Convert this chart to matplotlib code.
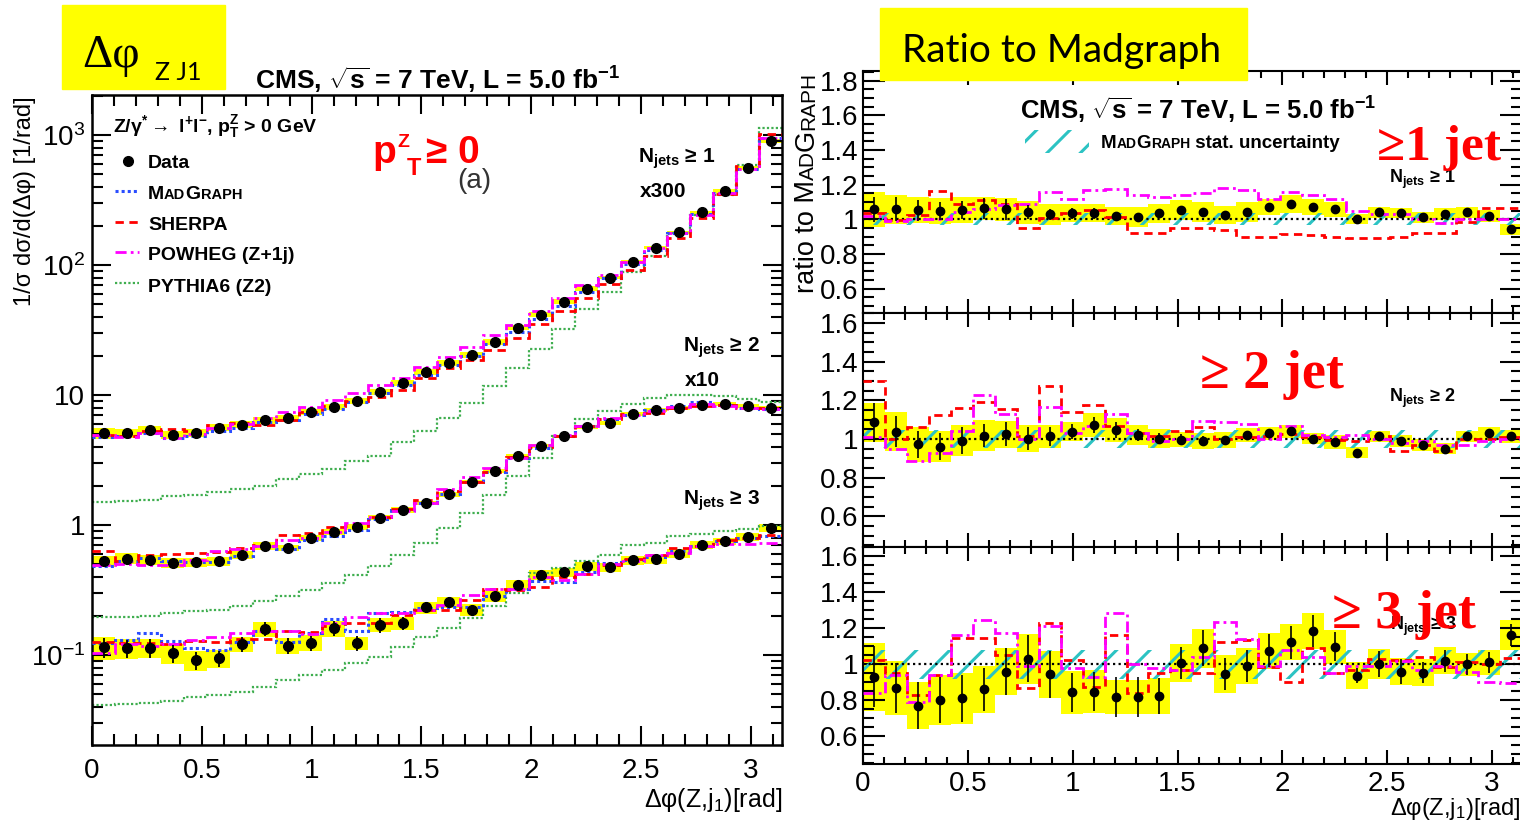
import matplotlib
matplotlib.use("Agg")
import matplotlib.pyplot as plt
import matplotlib.ticker as mticker
from matplotlib.patches import Rectangle
from matplotlib.lines import Line2D
import numpy as np

W, H = 1520, 826

# 30 bins in delta-phi(Z, j1) between 0 and pi
n_bins = 30
edges = np.linspace(0, np.pi, n_bins + 1)
centers = 0.5 * (edges[:-1] + edges[1:])
bin_w = edges[1] - edges[0]

# normalised cross sections as drawn (>=1 jet x300, >=2 jets x10, >=3 jets x1)
data_1j = [5.06, 5.1, 5.4, 4.9, 5.1, 5.6, 5.9, 6.4, 6.6, 7.4, 8.1, 9.0, 10.6, 12.3, 15.1,
           17.7, 20.4, 25.6, 32.9, 41.5, 52.2, 65.9, 80.0, 106, 136, 178, 254, 370, 556, 900]
data_2j = [0.526, 0.551, 0.542, 0.511, 0.516, 0.526, 0.592, 0.687, 0.667, 0.796, 0.887, 0.962,
           1.14, 1.30, 1.48, 1.72, 2.14, 2.59, 3.38, 4.04, 4.82, 5.66, 6.08, 7.13, 7.66, 7.94,
           8.38, 8.53, 8.22, 7.94]
data_3j = [0.115, 0.113, 0.114, 0.103, 0.0914, 0.0943, 0.121, 0.159, 0.118, 0.124, 0.161, 0.124,
           0.171, 0.176, 0.232, 0.254, 0.223, 0.282, 0.347, 0.415, 0.432, 0.481, 0.476, 0.535,
           0.548, 0.603, 0.707, 0.750, 0.805, 0.951]

pythia_1j = [1.50, 1.52, 1.55, 1.67, 1.71, 1.79, 1.90, 1.99, 2.25, 2.45, 2.68, 3.11, 3.40, 4.31,
             5.30, 6.61, 8.67, 11.8, 16.1, 22.6, 32.4, 45.6, 62.0, 89.0, 118, 175, 241, 344, 586, 1132]
pythia_2j = [0.195, 0.195, 0.198, 0.210, 0.216, 0.222, 0.236, 0.258, 0.282, 0.318, 0.357, 0.415,
             0.481, 0.592, 0.729, 0.951, 1.24, 1.70, 2.38, 3.30, 4.85, 6.53, 7.57, 8.53, 9.43,
             10.0, 10.0, 9.9, 9.3, 8.8]
pythia_3j = [0.0411, 0.0419, 0.0429, 0.0444, 0.0477, 0.0491, 0.0521, 0.0569, 0.0641, 0.0702,
             0.0766, 0.0863, 0.0971, 0.116, 0.138, 0.161, 0.192, 0.236, 0.300, 0.428, 0.470,
             0.526, 0.592, 0.707, 0.729, 0.819, 0.845, 0.896, 0.923, 0.980]

# ratios to MadGraph
ratio_data_1j = [1.057, 1.059, 1.053, 1.048, 1.053, 1.063, 1.057, 1.040, 1.029, 1.034, 1.034, 1.021,
                 1.015, 1.034, 1.053, 1.044, 1.025, 1.044, 1.072, 1.088, 1.072, 1.057, 1.002, 1.040,
                 1.034, 1.011, 1.030, 1.040, 1.019, 0.943]
syst_1j = [0.10, 0.084, 0.076, 0.076, 0.076, 0.067, 0.067, 0.067, 0.062, 0.052, 0.052, 0.052, 0.057,
           0.057, 0.057, 0.057, 0.052, 0.057, 0.048, 0.052, 0.048, 0.043, 0.030, 0.033, 0.029, 0.030,
           0.033, 0.033, 0.033, 0.033]
stat_1j = [0.07, 0.07, 0.06, 0.05, 0.05, 0.06, 0.06, 0.04, 0.03, 0.03, 0.03, 0.02, 0.015, 0.015, 0.015,
           0.015, 0.015, 0.015, 0.015, 0.015, 0.015, 0.015, 0.015, 0.015, 0.015, 0.015, 0.015, 0.015,
           0.015, 0.02]
sherpa_1j = [1.034, 0.996, 1.025, 1.164, 1.091, 1.110, 1.088, 0.949, 1.006, 1.034, 1.053, 1.015, 0.924,
             0.924, 0.949, 0.949, 0.939, 0.901, 0.901, 0.916, 0.910, 0.897, 0.891, 0.891, 0.897, 0.924,
             0.924, 0.987, 1.063, 1.063]
powheg_1j = [1.02, 0.99, 1.0, 1.0, 1.04, 1.06, 1.08, 1.09, 1.158, 1.12, 1.171, 1.177, 1.14, 1.13, 1.14,
             1.15, 1.18, 1.17, 1.12, 1.16, 1.14, 1.12, 1.05, 1.03, 1.03, 1.0, 0.98, 1.0, 1.0, 1.0]
mg_stat_1j = [0.035] * n_bins

ratio_data_2j = [1.087, 1.038, 0.974, 0.960, 0.991, 1.017, 1.026, 1.003, 1.014, 1.038, 1.073, 1.047,
                 1.021, 1.003, 0.997, 0.991, 0.995, 1.021, 1.030, 1.040, 1.003, 0.986, 0.930, 1.014,
                 0.991, 0.970, 0.951, 1.014, 1.030, 1.014]
syst_2j = [0.10, 0.10, 0.09, 0.08, 0.08, 0.08, 0.07, 0.07, 0.06, 0.05, 0.06, 0.06, 0.05, 0.05, 0.04,
           0.04, 0.04, 0.035, 0.035, 0.035, 0.03, 0.035, 0.03, 0.03, 0.03, 0.03, 0.03, 0.03, 0.035, 0.035]
stat_2j = [0.10, 0.08, 0.07, 0.07, 0.07, 0.06, 0.06, 0.06, 0.05, 0.04, 0.04, 0.04, 0.03, 0.03, 0.03,
           0.025, 0.02, 0.02, 0.02, 0.02, 0.02, 0.02, 0.015, 0.015, 0.015, 0.015, 0.015, 0.015, 0.015,
           0.015]
sherpa_2j = [1.30, 1.0, 1.061, 1.122, 1.16, 1.19, 1.157, 1.017, 1.275, 1.139, 1.177, 1.07, 1.031, 1.017,
             1.04, 1.061, 1.0, 1.01, 1.017, 1.026, 1.01, 0.997, 0.991, 1.017, 0.939, 0.969, 0.939, 1.003,
             1.0, 1.01]
powheg_2j = [1.01, 0.948, 0.887, 0.93, 1.04, 1.226, 1.13, 1.0, 1.165, 1.03, 1.07, 1.13, 1.03, 0.99, 1.0,
             1.096, 1.09, 1.08, 1.0, 1.07, 1.02, 1.01, 1.02, 1.0, 0.98, 0.99, 0.97, 0.97, 0.99, 1.0]
mg_stat_2j = [0.045] * n_bins

ratio_data_3j = [0.931, 0.870, 0.770, 0.802, 0.811, 0.861, 0.959, 1.031, 0.944, 0.844, 0.848, 0.817,
                 0.817, 0.824, 1.009, 1.089, 0.946, 0.991, 1.076, 1.122, 1.185, 1.098, 0.937, 1.002,
                 0.959, 0.954, 1.019, 1.0, 1.011, 1.163]
syst_3j = [0.19, 0.15, 0.13, 0.14, 0.14, 0.13, 0.13, 0.14, 0.13, 0.12, 0.12, 0.095, 0.095, 0.10, 0.105,
           0.11, 0.105, 0.10, 0.10, 0.10, 0.10, 0.095, 0.075, 0.083, 0.075, 0.075, 0.075, 0.065, 0.07,
           0.085]
stat_3j = [0.17, 0.14, 0.13, 0.13, 0.13, 0.12, 0.13, 0.13, 0.13, 0.11, 0.11, 0.11, 0.11, 0.10, 0.09,
           0.10, 0.09, 0.09, 0.09, 0.09, 0.09, 0.08, 0.04, 0.07, 0.07, 0.06, 0.06, 0.06, 0.06, 0.06]
sherpa_3j = [1.024, 0.95, 0.83, 0.94, 1.144, 1.144, 1.052, 0.867, 1.231, 1.024, 0.876, 1.163, 0.839,
             0.95, 0.969, 0.95, 1.126, 1.135, 0.987, 0.904, 1.089, 0.954, 0.969, 1.028, 1.024, 1.043,
             0.987, 1.015, 1.0, 1.033]
powheg_3j = [0.839, 0.941, 0.793, 0.94, 1.163, 1.246, 1.176, 0.99, 1.213, 0.98, 0.931, 1.283, 1.0, 0.98,
             0.97, 1.04, 1.237, 1.139, 0.99, 1.08, 1.04, 0.95, 0.99, 0.99, 1.02, 0.97, 0.99, 0.96, 0.904,
             0.894]
mg_stat_3j = [0.08] * n_bins

YELLOW = "#ffff00"
BLUE = "#2a4dff"
RED = "#ff0000"
MAGENTA = "#ff00ff"
GREEN = "#3fae4f"
CYAN = "#2cc3c3"

plt.rcParams["font.family"] = ["Liberation Sans", "DejaVu Sans"]
plt.rcParams["mathtext.fontset"] = "custom"
plt.rcParams["mathtext.rm"] = "Liberation Sans"
plt.rcParams["mathtext.it"] = "Liberation Sans:italic"
plt.rcParams["mathtext.bf"] = "Liberation Sans:bold"
plt.rcParams["hatch.linewidth"] = 2.2

fig = plt.figure(figsize=(W / 100, H / 100), dpi=100)
renderer = fig.canvas.get_renderer()


def fx(px):
    return px / W


def fy(py):
    return 1 - py / H


def put(px, py, s, **kw):
    kw.setdefault("va", "baseline")
    return fig.text(fx(px), fy(py), s, **kw)


def put_caps(px, py, pieces, rotation=0, **kw):
    # pieces of different size written one after another (small caps)
    for s, size in pieces:
        t = put(px, py, s, fontsize=size, rotation=rotation, rotation_mode="anchor", ha="left", **kw)
        bb = t.get_window_extent(renderer)
        if rotation:
            py -= bb.height
        else:
            px += bb.width


ls_mg = (0, (1, 1))
ls_sherpa = (0, (3, 2))
ls_powheg = (0, (4, 1.5, 1, 1.5))
ls_pythia = (0, (1, 1))

# ---------------- left: distributions ----------------
axL = fig.add_axes([fx(92), fy(745), (782 - 92) / W, (745 - 95) / H])
axL.set_yscale("log")

sets_left = [
    (data_1j, ratio_data_1j, syst_1j, stat_1j, sherpa_1j, powheg_1j, pythia_1j),
    (data_2j, ratio_data_2j, syst_2j, stat_2j, sherpa_2j, powheg_2j, pythia_2j),
    (data_3j, ratio_data_3j, syst_3j, stat_3j, sherpa_3j, powheg_3j, pythia_3j),
]
for d, rd, sy, st, rs, rp, py in sets_left:
    d = np.asarray(d)
    rd = np.asarray(rd)
    mg = d / rd
    rel_sys = np.asarray(sy) / rd
    axL.bar(centers, 2 * d * rel_sys, bottom=d * (1 - rel_sys), width=bin_w,
            color=YELLOW, lw=0, zorder=1)
    axL.stairs(py, edges, baseline=None, color=GREEN, ls=ls_pythia, lw=1.6, zorder=2)
    axL.stairs(mg, edges, baseline=None, color=BLUE, ls=ls_mg, lw=2.2, zorder=3)
    axL.stairs(mg * np.asarray(rs), edges, baseline=None, color=RED, ls=ls_sherpa, lw=2.0, zorder=3)
    axL.stairs(mg * np.asarray(rp), edges, baseline=None, color=MAGENTA, ls=ls_powheg, lw=2.0, zorder=3)
    axL.errorbar(centers, d, yerr=d * np.asarray(st) / rd, fmt="o", color="k", ms=7,
                 elinewidth=1.3, capsize=0, zorder=5)

axL.set_xlim(0, np.pi)
axL.set_ylim(0.0203, 2030)
axL.xaxis.set_major_locator(mticker.MultipleLocator(0.5))
axL.xaxis.set_minor_locator(mticker.MultipleLocator(0.1))
axL.xaxis.set_major_formatter(mticker.FormatStrFormatter("%g"))
axL.yaxis.set_major_locator(mticker.LogLocator(base=10, numticks=12))
axL.yaxis.set_minor_locator(mticker.LogLocator(base=10, subs=np.arange(2, 10), numticks=12))
axL.yaxis.set_minor_formatter(mticker.NullFormatter())


def log_label(v, pos):
    if np.isclose(v, 1):
        return "1"
    if np.isclose(v, 10):
        return "10"
    return r"$10^{%d}$" % int(round(np.log10(v)))


axL.yaxis.set_major_formatter(mticker.FuncFormatter(log_label))
axL.tick_params(which="both", direction="in", top=True, right=True, width=1.5, labelsize=20)
axL.tick_params(which="major", length=14)
axL.tick_params(which="minor", length=8)
axL.tick_params(axis="x", pad=9)
axL.tick_params(axis="y", pad=5)
for sp in axL.spines.values():
    sp.set_linewidth(1.8)

# legend
fig.add_artist(Line2D([fx(128)], [fy(161)], transform=fig.transFigure, marker="o", color="k", ms=7))
for y, c, ls, lw in [(191, BLUE, ls_mg, 2.2), (222, RED, ls_sherpa, 2.0),
                     (252, MAGENTA, ls_powheg, 2.0), (283, GREEN, ls_pythia, 1.6)]:
    fig.add_artist(Line2D([fx(115), fx(139)], [fy(y), fy(y)], transform=fig.transFigure,
                          color=c, ls=ls, lw=lw))
put(148, 168, "Data", fontsize=14, fontweight="bold")
put_caps(148, 199, [("M", 14), ("AD", 10.5), ("G", 14), ("RAPH", 10.5)], fontweight="bold")
put(148, 230, "SHERPA", fontsize=14, fontweight="bold")
put(148, 260, "POWHEG (Z+1j)", fontsize=14, fontweight="bold")
put(148, 292, "PYTHIA6 (Z2)", fontsize=14, fontweight="bold")

put(113, 132, r"Z/$\mathbf{\gamma}^{\mathbf{*}}\rightarrow$ l$^{\mathbf{+}}$l$^{\mathbf{-}}$, "
              r"p$^{\mathbf{Z}}_{\mathbf{T}}$ > 0 GeV", fontsize=14, fontweight="bold")
put(255, 90, r"CMS, $\sqrt{\mathbf{s}}$ = 7 TeV, L = 5.0 fb$^{\mathbf{-1}}$",
    fontsize=19, fontweight="bold")

# red selection label
put(372, 163, "p", fontsize=28, fontweight="bold", color=RED)
put(397, 147, "Z", fontsize=14, fontweight="bold", color=RED)
put(407, 175, "T", fontsize=17, fontweight="bold", color=RED)
put(426, 163, "≥ 0", fontsize=28, fontweight="bold", color=RED)
put(457, 188, "(a)", fontsize=20, color="#333333")

put(638, 163, r"N$_{\mathbf{jets}}$ ≥ 1", fontsize=15, fontweight="bold")
put(640, 197, "x300", fontsize=15, fontweight="bold")
put(683, 352, r"N$_{\mathbf{jets}}$ ≥ 2", fontsize=15, fontweight="bold")
put(685, 386, "x10", fontsize=15, fontweight="bold")
put(683, 505, r"N$_{\mathbf{jets}}$ ≥ 3", fontsize=15, fontweight="bold")

put(782, 807, r"Δφ(Z,j$_{1}$)[rad]", ha="right", fontsize=18)
fig.text(fx(25), fy(96), "1/σ dσ/d(Δφ) [1/rad]", rotation=90, ha="center", va="top", fontsize=17)

# ---------------- right: ratios to MadGraph ----------------
rx0, rx1 = 863, 1521.8
pads = [(70.7, 313, (0.46, 1.857)), (313, 547, (0.442, 1.652)), (547, 764, (0.446, 1.652))]
sets_ratio = [
    (ratio_data_1j, syst_1j, stat_1j, sherpa_1j, powheg_1j, mg_stat_1j),
    (ratio_data_2j, syst_2j, stat_2j, sherpa_2j, powheg_2j, mg_stat_2j),
    (ratio_data_3j, syst_3j, stat_3j, sherpa_3j, powheg_3j, mg_stat_3j),
]
for k, ((top, bot, ylim), (rd, sy, st, rs, rp, ms)) in enumerate(zip(pads, sets_ratio)):
    ax = fig.add_axes([fx(rx0), fy(bot), (rx1 - rx0) / W, (bot - top) / H])
    rd = np.asarray(rd)
    sy = np.asarray(sy)
    ms = np.asarray(ms)
    ax.bar(centers, 2 * sy, bottom=rd - sy, width=bin_w, color=YELLOW, lw=0, zorder=1)
    ax.bar(centers, 2 * ms, bottom=1 - ms, width=bin_w, fill=False, hatch="/",
           edgecolor=CYAN, lw=0, zorder=2)
    ax.axhline(1, color="k", ls=(0, (1, 1.5)), lw=1.6, zorder=2)
    ax.stairs(rs, edges, baseline=None, color=RED, ls=ls_sherpa, lw=2.0, zorder=3)
    ax.stairs(rp, edges, baseline=None, color=MAGENTA, ls=ls_powheg, lw=2.0, zorder=3)
    ax.errorbar(centers, rd, yerr=st, fmt="o", color="k", ms=6, elinewidth=1.2, capsize=0, zorder=5)

    ax.set_xlim(0, np.pi)
    ax.set_ylim(*ylim)
    ax.xaxis.set_major_locator(mticker.MultipleLocator(0.5))
    ax.xaxis.set_minor_locator(mticker.MultipleLocator(0.1))
    ax.xaxis.set_major_formatter(mticker.FormatStrFormatter("%g"))
    ax.yaxis.set_major_locator(mticker.MultipleLocator(0.2))
    ax.yaxis.set_minor_locator(mticker.MultipleLocator(0.05))
    ax.yaxis.set_major_formatter(mticker.FormatStrFormatter("%g"))
    ax.tick_params(which="both", direction="in", top=True, right=True, width=1.5, labelsize=20)
    ax.tick_params(axis="y", which="major", length=16, pad=3)
    ax.tick_params(axis="y", which="minor", length=8)
    ax.tick_params(axis="x", which="major", length=10, pad=5)
    ax.tick_params(axis="x", which="minor", length=5)
    if k < 2:
        ax.tick_params(axis="x", labelbottom=False)
    for sp in ax.spines.values():
        sp.set_linewidth(1.5)

put(1020, 120, r"CMS, $\sqrt{\mathbf{s}}$ = 7 TeV, L = 5.0 fb$^{\mathbf{-1}}$",
    fontsize=18.5, fontweight="bold")
fig.add_artist(Rectangle((fx(1025), fy(153)), (1089 - 1025) / W, (153 - 130) / H,
                         transform=fig.transFigure, fill=False, hatch="/", edgecolor=CYAN, lw=0))
put_caps(1101, 148, [("M", 13.5), ("AD", 10), ("G", 13.5), ("RAPH", 10), (" stat. uncertainty", 13.5)],
         fontweight="bold")

put(1389, 183, r"N$_{\mathbf{jets}}$ ≥ 1", fontsize=13, fontweight="bold")
put(1389, 402, r"N$_{\mathbf{jets}}$ ≥ 2", fontsize=13, fontweight="bold")
put(1390, 630, r"N$_{\mathbf{jets}}$ ≥ 3", fontsize=13, fontweight="bold")

put(1377, 160, "≥1 jet", family="Liberation Serif", fontweight="bold", fontsize=37, color=RED)
put(1200, 388, "≥ 2 jet", family="Liberation Serif", fontweight="bold", fontsize=39, color=RED)
put(1332, 628, "≥ 3 jet", family="Liberation Serif", fontweight="bold", fontsize=39, color=RED)

put(1521, 815, r"Δφ(Z,j$_{1}$)[rad]", ha="right", fontsize=17)
put_caps(814, 293, [("ratio to M", 19.5), ("AD", 15), ("G", 19.5), ("RAPH", 15)], rotation=90)

# ---------------- yellow title boxes ----------------
fig.add_artist(Rectangle((fx(62), fy(89)), (225 - 62) / W, (89 - 5) / H, transform=fig.transFigure,
                         color=YELLOW, zorder=10))
put(82, 67, "Δφ", family="Liberation Serif", fontsize=34, zorder=11)
put(155, 80, "Z J1", family="Lato", fontsize=18, zorder=11)

fig.add_artist(Rectangle((fx(880), fy(80)), (1247 - 880) / W, (80 - 8) / H, transform=fig.transFigure,
                         color=YELLOW, zorder=10))
put(902, 62, "Ratio to Madgraph", family="Lato", fontsize=28, zorder=11)

fig.savefig("out.png", dpi=100)
